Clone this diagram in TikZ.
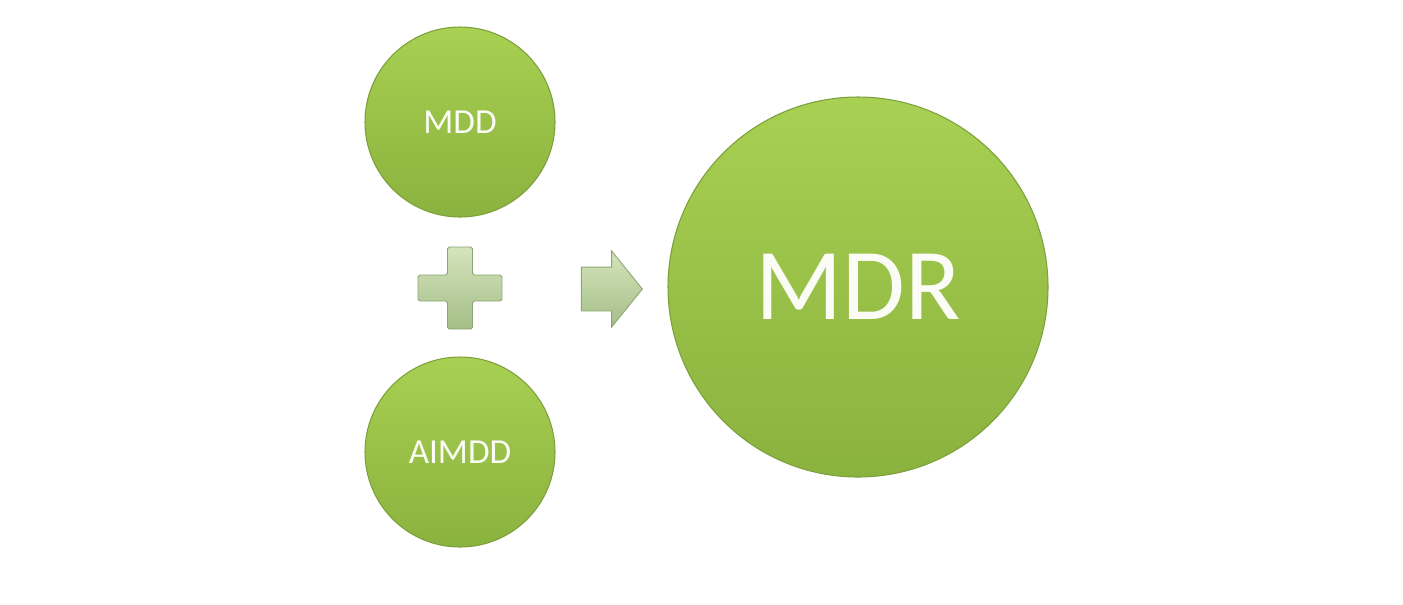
\documentclass[tikz,border=0pt]{standalone}
\usepackage{fontspec}
\setmainfont{Carlito}
\usepackage{tikz}
\usetikzlibrary{positioning,shapes.arrows,calc}
\definecolor{balltop}{RGB}{168,208,82}
\definecolor{ballbot}{RGB}{138,178,62}
\definecolor{ballline}{RGB}{125,160,60}
\definecolor{signtop}{RGB}{212,228,188}
\definecolor{signbot}{RGB}{165,190,135}
\definecolor{signline}{RGB}{140,165,115}
\definecolor{balltext}{RGB}{250,252,245}

\begin{document}
\begin{tikzpicture}[
    ball/.style={circle, draw=ballline, line width=0.6pt, top color=balltop,
        bottom color=ballbot, text=balltext, inner sep=0pt},
    smallball/.style={ball, minimum size=3.8cm, font=\fontsize{20}{24}\selectfont},
    bigball/.style={ball, minimum size=7.6cm, font=\fontsize{58}{66}\selectfont},
    sign/.style={draw=signline, line width=0.5pt, top color=signtop, bottom color=signbot}
]
% frame
\useasboundingbox (0,0) rectangle (28.06,-12.08);

% inputs
\node[smallball] (mdd) at (9.2,-2.44) {MDD};
\node[smallball] (aimdd) at (9.2,-9.04) {AIMDD};

% plus sign between the inputs
\coordinate (plus) at (9.2,-5.76);
\path[sign, rounded corners=1pt] ($(plus)+(-0.25,0.82)$) -- ++(0.5,0) -- ++(0,-0.56)
    -- ++(0.59,0) -- ++(0,-0.52) -- ++(-0.59,0) -- ++(0,-0.56) -- ++(-0.5,0)
    -- ++(0,0.56) -- ++(-0.59,0) -- ++(0,0.52) -- ++(0.59,0) -- cycle;

% result
\node[bigball] (mdr) at (17.16,-5.74) {MDR};
\node[sign, single arrow, minimum height=1.22cm, inner xsep=0pt, inner ysep=0.43cm,
    single arrow head extend=0.32cm, single arrow head indent=0pt,
    single arrow tip angle=102] (arrow) at (12.06,-5.78) {};
\end{tikzpicture}
\end{document}
